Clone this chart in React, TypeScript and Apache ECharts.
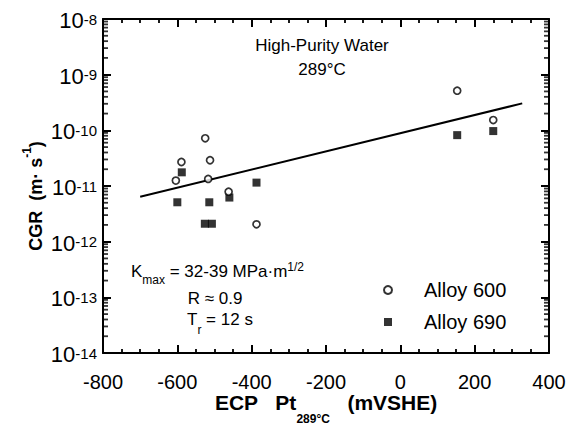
import React, { useEffect, useRef } from "react";
import * as echarts from "echarts";

// ECP (mV SHE) and CGR (m/s)
const alloy600X = [-525, -589, -512, -604, -517, -462, -387, 153, 250];
const alloy600Y = [7.2e-11, 2.7e-11, 2.9e-11, 1.25e-11, 1.34e-11, 7.9e-12, 2.05e-12, 5.15e-10, 1.53e-10];
const alloy690X = [-588, -600, -514, -460, -387, -526, -507, 153, 250];
const alloy690Y = [1.76e-11, 5.1e-12, 5.1e-12, 6.2e-12, 1.15e-11, 2.1e-12, 2.1e-12, 8.2e-11, 9.7e-11];
const fitX = [-700, 328];
const fitY = [6.4e-12, 3.05e-10];

const xMin = -800;
const xMax = 400;
const yMin = 1e-14;
const yMax = 1e-8;
const decades = [-14, -13, -12, -11, -10, -9];
const minorMultipliers = [2, 3, 4, 5, 6, 7, 8, 9];

const FONT = "'Liberation Sans', Arial, Helvetica, sans-serif";

export default function App() {
  const ref = useRef<HTMLDivElement>(null);
  useEffect(() => {
    const chart = echarts.init(ref.current!, null, { renderer: "svg" });
    const minorVals: number[] = [];
    decades.forEach((d) => minorMultipliers.forEach((m) => minorVals.push(m * Math.pow(10, d))));
    const tickSeries = (edgeX: number, dir: number) => ({
      type: "scatter",
      name: "minor" + edgeX,
      data: minorVals.map((v) => [edgeX, v]),
      symbol: "rect",
      symbolSize: [5, 1.8],
      symbolOffset: [dir * 2.5, 0],
      itemStyle: { color: "#000" },
      silent: true,
      clip: false,
      z: 5,
    });
    const axisLine = { show: true, onZero: false, lineStyle: { color: "#000", width: 2 } };
    const majorTick = { show: true, inside: true, length: 8, lineStyle: { color: "#000", width: 2 } };
    const minorTick = { show: true, splitNumber: 4, length: 4, lineStyle: { color: "#000", width: 1.8 } };
    const option: any = {
      animation: false,
      backgroundColor: "#fff",
      textStyle: { fontFamily: FONT, color: "#000" },
      grid: { left: 103, top: 19, width: 446, height: 334, containLabel: false, outerBoundsMode: "none" },
      legend: {
        orient: "vertical",
        left: 378,
        top: 275,
        itemWidth: 8,
        itemHeight: 8,
        itemGap: 12,
        data: [
          { name: "Alloy 600", icon: "circle" },
          { name: "Alloy 690", icon: "rect" },
        ],
        textStyle: { fontFamily: FONT, fontSize: 20, color: "#000", padding: [0, 0, 0, 27] },
      },
      xAxis: [
        {
          type: "value",
          min: xMin,
          max: xMax,
          interval: 200,
          position: "bottom",
          axisLine,
          axisTick: majorTick,
          minorTick,
          splitLine: { show: false },
          minorSplitLine: { show: false },
          axisLabel: { fontFamily: FONT, fontSize: 20, color: "#000", margin: 19 },
          name: "{m|ECP   Pt}{s|289°C}{m|   (mVSHE)}",
          nameLocation: "middle",
          nameGap: 39,
          nameMoveOverlap: false,
          nameTextStyle: {
            rich: {
              m: { fontFamily: FONT, fontSize: 21, fontWeight: "bold", color: "#000", lineHeight: 20, verticalAlign: "top" },
              s: { fontFamily: FONT, fontSize: 12, fontWeight: "bold", color: "#000", lineHeight: 12, verticalAlign: "top", padding: [21, 0, 0, 0] },
            },
          },
        },
        {
          type: "value",
          min: xMin,
          max: xMax,
          interval: 200,
          position: "top",
          axisLine,
          axisTick: majorTick,
          minorTick,
          splitLine: { show: false },
          axisLabel: { show: false },
        },
      ],
      yAxis: [
        {
          type: "log",
          logBase: 10,
          min: yMin,
          max: yMax,
          splitNumber: 6,
          position: "left",
          axisLine,
          axisTick: majorTick,
          splitLine: { show: false },
          axisLabel: {
            margin: 6,
            padding: [5, 0, 0, 0],
            formatter: (v: number) => `{b|10}{e|${Math.round(Math.log10(v))}}`,
            rich: {
              b: { fontFamily: FONT, fontSize: 22, color: "#000", lineHeight: 20, verticalAlign: "bottom" },
              e: { fontFamily: FONT, fontSize: 15, color: "#000", lineHeight: 14, verticalAlign: "top", padding: [0, 0, 12, 0] },
            },
          },
        },
        {
          type: "log",
          logBase: 10,
          min: yMin,
          max: yMax,
          splitNumber: 6,
          position: "right",
          axisLine,
          axisTick: majorTick,
          splitLine: { show: false },
          axisLabel: { show: false },
        },
      ],
      graphic: [
        {
          type: "text",
          x: 33,
          y: 196,
          rotation: Math.PI / 2,
          style: {
            x: 0,
            y: 0,
            text: "{m|CGR  (m· s}{p|-1}{m|)}",
            align: "center",
            verticalAlign: "middle",
            rich: {
              m: { font: `bold 18px ${FONT}`, fill: "#000", lineHeight: 24, verticalAlign: "bottom" },
              p: { font: `bold 12px ${FONT}`, fill: "#000", lineHeight: 12, verticalAlign: "top" },
            },
          },
        },
        {
          type: "text",
          style: {
            x: 322,
            y: 45,
            text: "High-Purity Water",
            font: `17px ${FONT}`,
            fill: "#000",
            align: "center",
            verticalAlign: "middle",
          },
        },
        {
          type: "text",
          style: {
            x: 322,
            y: 69,
            text: "289°C",
            font: `17px ${FONT}`,
            fill: "#000",
            align: "center",
            verticalAlign: "middle",
          },
        },
        {
          type: "text",
          style: {
            x: 131,
            y: 271,
            text: "{m|K}{s|max}{m| = 32-39 MPa·m}{p|1/2}",
            verticalAlign: "middle",
            rich: {
              m: { font: `17px ${FONT}`, fill: "#000", lineHeight: 20, verticalAlign: "middle" },
              s: { font: `12px ${FONT}`, fill: "#000", lineHeight: 12, verticalAlign: "top", padding: [13, 0, 0, 0] },
              p: { font: `12px ${FONT}`, fill: "#000", lineHeight: 12, verticalAlign: "top" },
            },
          },
        },
        {
          type: "text",
          style: {
            x: 215,
            y: 298,
            text: "R ≈ 0.9",
            font: `17px ${FONT}`,
            fill: "#000",
            align: "center",
            verticalAlign: "middle",
          },
        },
        {
          type: "text",
          style: {
            x: 187,
            y: 321,
            text: "{m|T}{s|r}{m| = 12 s}",
            verticalAlign: "middle",
            rich: {
              m: { font: `17px ${FONT}`, fill: "#000", lineHeight: 20, verticalAlign: "top" },
              s: { font: `12px ${FONT}`, fill: "#000", lineHeight: 12, verticalAlign: "top", padding: [13, 0, 0, 0] },
            },
          },
        },
      ],
      series: [
        {
          type: "line",
          name: "fit",
          data: fitX.map((x, i) => [x, fitY[i]]),
          showSymbol: false,
          symbol: "none",
          lineStyle: { color: "#000", width: 2 },
          silent: true,
          z: 2,
        },
        {
          type: "scatter",
          name: "Alloy 690",
          data: alloy690X.map((x, i) => [x, alloy690Y[i]]),
          symbol: "rect",
          symbolSize: 8,
          itemStyle: { color: "#000" },
          z: 3,
        },
        {
          type: "scatter",
          name: "Alloy 600",
          data: alloy600X.map((x, i) => [x, alloy600Y[i]]),
          symbol: "circle",
          symbolSize: 7,
          itemStyle: { color: "#fff", borderColor: "#000", borderWidth: 1.7 },
          z: 4,
        },
        tickSeries(xMin, 1),
        tickSeries(xMax, -1),
      ],
    };
    chart.setOption(option);
    return () => chart.dispose();
  }, []);
  return (
    <div
      ref={ref}
      style={{ position: "fixed", left: 0, top: 0, width: 575, height: 425, background: "#fff" }}
    />
  );
}
